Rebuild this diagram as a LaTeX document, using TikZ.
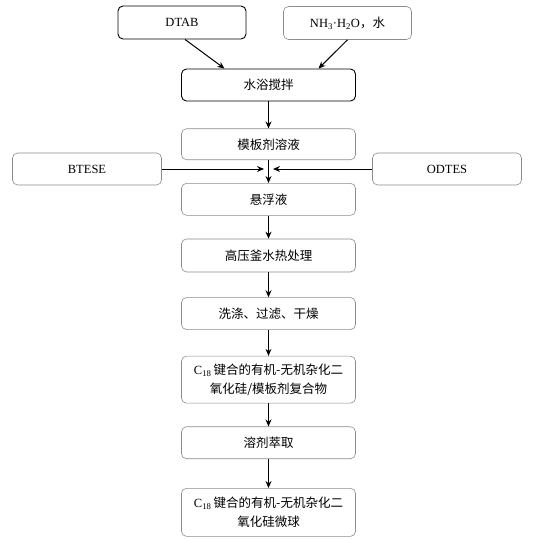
\documentclass[tikz,border=0pt]{standalone}
\usepackage{fontspec}
\setmainfont{Liberation Serif}
\newfontfamily\cjk{Noto Sans CJK SC}
\usetikzlibrary{positioning, arrows.meta, shapes}
\tikzstyle{arrow} = [line width=1pt,-{Stealth[length=7pt,width=6pt]}]
\tikzstyle{stepbox} = [rectangle, rounded corners=5pt, minimum width=174pt, minimum height=32pt, text centered, align=center, draw=black!45, line width=0.6pt, font=\fontsize{12.5}{19}\selectfont]
\tikzstyle{inputbox} = [stepbox, minimum width=128pt, minimum height=33pt]
\tikzstyle{darkbox} = [draw=black, line width=0.9pt]
\tikzstyle{sidebox} = [stepbox, minimum width=149pt]

\begin{document}
\begin{tikzpicture}[x=1pt,y=1pt]
                \useasboundingbox (0,0) rectangle (554,-538);
                \node (dtab) [inputbox, darkbox] at (182,-22.5) {DTAB};
                \node (nh3) [inputbox] at (347.5,-23) {NH\textsubscript{3}·H\textsubscript{2}O{\cjk ，水}};
                \node (stir) [stepbox, darkbox] at (268.5,-85) {\cjk 水浴搅拌};
                \node (template) [stepbox, minimum height=31pt, below=27pt of stir] {\cjk 模板剂溶液};
                \node (suspension) [stepbox, below=23pt of template] {\cjk 悬浮液};
                \node (autoclave) [stepbox, minimum height=33pt, below=23pt of suspension] {\cjk 高压釜水热处理};
                \node (wash) [stepbox, below=25pt of autoclave] {\cjk 洗涤、过滤、干燥};
                \node (hybrid) [stepbox, minimum height=47pt, below=26pt of wash] {C\textsubscript{18}\,{\cjk 键合的有机-无机杂化二}\\{\cjk 氧化硅/模板剂复合物}};
                \node (extract) [stepbox, below=23pt of hybrid] {\cjk 溶剂萃取};
                \node (sphere) [stepbox, minimum height=48pt, below=29pt of extract] {C\textsubscript{18}\,{\cjk 键合的有机-无机杂化二}\\{\cjk 氧化硅微球}};
                \node (btese) [sidebox] at (87,-169) {BTESE};
                \node (odtes) [sidebox] at (447,-169) {ODTES};
                \coordinate (mixL) at ([xshift=-4.5pt]template.south);
                \coordinate (mixR) at ([xshift=4.5pt]template.south);

                \draw [arrow] ([xshift=3pt]dtab.south) -- ([xshift=-44pt]stir.north);
                \draw [arrow] (nh3.south) -- ([xshift=50pt]stir.north);
                \draw [arrow] (stir) -- (template);
                \draw [arrow] (template) -- (suspension);
                \draw [arrow] (btese.east) -- (btese.east -| mixL);
                \draw [arrow] (odtes.west) -- (odtes.west -| mixR);
                \draw [arrow] (suspension) -- (autoclave);
                \draw [arrow] (autoclave) -- (wash);
                \draw [arrow] (wash) -- (hybrid);
                \draw [arrow] (hybrid) -- (extract);
                \draw [arrow] (extract) -- (sphere);
                \end{tikzpicture}
\end{document}
